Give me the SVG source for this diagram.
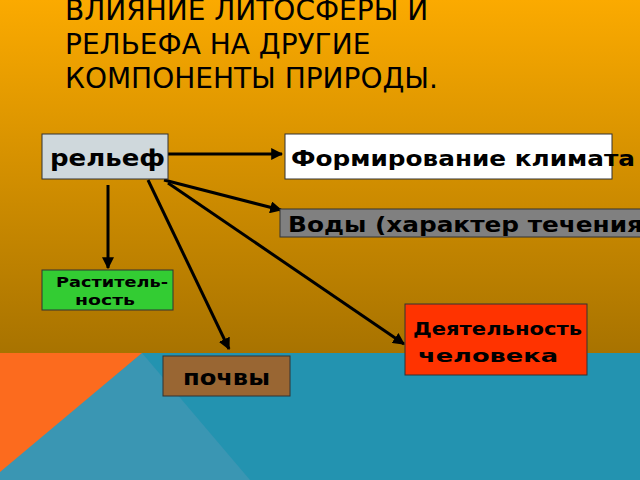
<svg xmlns="http://www.w3.org/2000/svg" width="640" height="480" viewBox="0 0 640 480">
<defs>
<linearGradient id="bg" x1="0" y1="0" x2="0" y2="1"><stop offset="0" stop-color="#FBAA00"/><stop offset="1" stop-color="#A87300"/></linearGradient>
<marker id="ar" viewBox="0 0 10 10" refX="9" refY="5" markerWidth="4" markerHeight="4" orient="auto"><path d="M0,0L10,5L0,10z" fill="#000"/></marker>
<style>
text{font-family:"DejaVu Sans",sans-serif;fill:#000}
.b{font-weight:bold}
.n rect{stroke:#333;stroke-width:1}
.c line{stroke:#000;stroke-width:3;marker-end:url(#ar)}
</style>
</defs>
<rect x="0" y="0" width="640" height="353" fill="url(#bg)"/>
<rect x="0" y="353" width="640" height="127" fill="#2393B0"/>
<polygon points="142,353 250,480 0,480 0,470" fill="#3A96B3"/>
<polygon points="0,353 142,353 0,472" fill="#FC6B1E"/>
<g id="title" font-size="28">
<text x="65" y="20">ВЛИЯНИЕ ЛИТОСФЕРЫ И</text>
<text x="65" y="54">РЕЛЬЕФА НА ДРУГИЕ</text>
<text x="65" y="88">КОМПОНЕНТЫ ПРИРОДЫ.</text>
</g>
<g class="c" id="connectors">
<line x1="168" y1="154" x2="282" y2="154"/>
<line x1="108" y1="185" x2="108" y2="268"/>
<line x1="148" y1="180" x2="229" y2="349"/>
<line x1="164" y1="180" x2="281" y2="210"/>
<line x1="168" y1="183" x2="404" y2="344"/>
</g>
<g class="n" id="relief"><rect x="42" y="134" width="126" height="45" fill="#CFD8DC"/><text x="50" y="166" font-size="23" class="b" textLength="115" lengthAdjust="spacingAndGlyphs">рельеф</text></g>
<g class="n" id="climate"><rect x="285" y="134" width="327" height="45" fill="#fff"/><text x="291" y="166" font-size="21" class="b" textLength="344" lengthAdjust="spacingAndGlyphs">Формирование климата</text></g>
<g class="n" id="water"><rect x="280" y="209" width="362" height="28" fill="#808080"/><text x="288" y="232" font-size="21" class="b" textLength="355" lengthAdjust="spacingAndGlyphs">Воды (характер течения</text></g>
<g class="n" id="veg"><rect x="42" y="270" width="131" height="40" fill="#33CC33"/><text x="56" y="287" font-size="14" class="b" textLength="112" lengthAdjust="spacingAndGlyphs">Раститель-</text><text x="75" y="305" font-size="14" class="b" textLength="60" lengthAdjust="spacingAndGlyphs">ность</text></g>
<g class="n" id="human"><rect x="405" y="304" width="182" height="71" fill="#FF3300"/><text x="413" y="335" font-size="18" class="b" textLength="169" lengthAdjust="spacingAndGlyphs">Деятельность</text><text x="418" y="362" font-size="18" class="b" textLength="140" lengthAdjust="spacingAndGlyphs">человека</text></g>
<g class="n" id="soil"><rect x="163" y="356" width="127" height="40" fill="#996633"/><text x="183" y="385" font-size="21" class="b" textLength="87" lengthAdjust="spacingAndGlyphs">почвы</text></g>
</svg>
